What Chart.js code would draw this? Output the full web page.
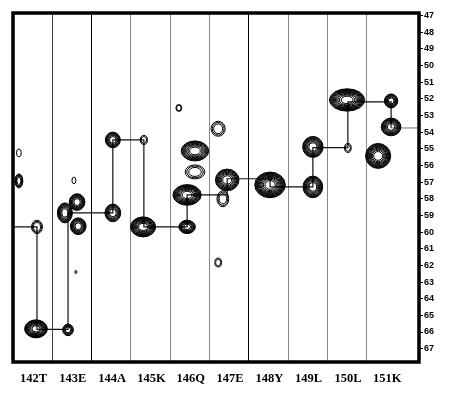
<!DOCTYPE html>
<html>
<head>
<meta charset="utf-8">
<script src="https://cdn.jsdelivr.net/npm/chart.js@4/dist/chart.umd.min.js"></script>
<style>
  body { margin: 0; background: #fff; }
  canvas { display: block; }
</style>
</head>
<body>
<canvas id="strips" width="449" height="393"></canvas>
<script>
// residue strips, left to right
const residues = ['142T', '143E', '144A', '145K', '146Q', '147E', '148Y', '149L', '150L', '151K'];
// 13C shift axis (ppm), drawn top to bottom
const ppmTicks = [47, 48, 49, 50, 51, 52, 53, 54, 55, 56, 57, 58, 59, 60, 61, 62, 63, 64, 65, 66, 67];

// cross peaks: position across the strips, 13C shift, half widths, number of contour levels
const peakX        = [0.585, 1.40, 0.61, 1.63, 1.32, 1.66, 1.55, 1.60, 0.15, 0.15, 2.54, 2.54, 3.33, 3.31, 4.43, 4.43, 4.63, 4.63, 4.22, 5.22, 5.45, 5.34, 5.22, 6.54, 7.63, 7.63, 8.52, 8.50, 9.62, 9.62, 9.29];
const peakPpm      = [65.81, 65.87, 59.69, 58.20, 58.85, 59.65, 56.90, 62.40, 55.25, 56.93, 58.85, 54.47, 54.47, 59.69, 59.69, 57.77, 56.39, 55.13, 52.55, 53.80, 56.87, 58.00, 61.83, 57.17, 57.29, 54.89, 54.95, 52.07, 52.13, 53.69, 55.43];
const peakWidthX   = [0.29, 0.135, 0.14, 0.20, 0.19, 0.20, 0.05, 0.025, 0.06, 0.10, 0.20, 0.19, 0.09, 0.32, 0.21, 0.36, 0.25, 0.35, 0.075, 0.18, 0.30, 0.15, 0.085, 0.39, 0.25, 0.26, 0.085, 0.45, 0.17, 0.25, 0.32];
const peakWidthPpm = [0.54, 0.35, 0.40, 0.50, 0.60, 0.50, 0.20, 0.10, 0.24, 0.42, 0.53, 0.47, 0.27, 0.60, 0.40, 0.62, 0.42, 0.60, 0.21, 0.45, 0.65, 0.48, 0.27, 0.77, 0.65, 0.63, 0.27, 0.67, 0.42, 0.53, 0.75];
const peakLevels   = [8, 4, 3, 6, 6, 6, 1, 1, 1, 4, 5, 5, 2, 8, 6, 8, 3, 7, 2, 3, 7, 3, 2, 9, 7, 7, 2, 9, 5, 7, 8];

// sequential walk connecting the i / i-1 peaks
const walkX   = [0, 0.61, 0.61, 1.40, 1.40, 2.54, 2.54, 3.33, 3.33, 4.43, 4.43, 5.45, 5.45, 6.54, 6.54, 7.63, 7.63, 8.52, 8.52, 9.62, 9.62, 10.33];
const walkPpm = [59.69, 59.69, 65.84, 65.84, 58.85, 58.85, 54.47, 54.47, 59.69, 59.69, 57.77, 57.77, 56.80, 56.80, 57.29, 57.29, 54.93, 54.93, 52.19, 52.19, 53.75, 53.75];

const walkData = walkX.map((x, i) => ({ x: x, y: walkPpm[i] }));
const peakData = peakX.map((x, i) => ({ x: x, y: peakPpm[i] }));

// nested ellipses for each peak, sized through the scales
const contourPlugin = {
    id: 'contours',
    afterDatasetsDraw(chart) {
        const { ctx, chartArea, scales } = chart;
        const meta = chart.getDatasetMeta(1);
        ctx.save();
        ctx.beginPath();
        ctx.rect(chartArea.left, chartArea.top, chartArea.width, chartArea.height);
        ctx.clip();
        ctx.strokeStyle = '#000';
        ctx.lineWidth = 1;
        meta.data.forEach((pt, i) => {
            const rx = Math.abs(scales.x.getPixelForValue(peakX[i] + peakWidthX[i]) - pt.x);
            const ry = Math.abs(scales.y.getPixelForValue(peakPpm[i] + peakWidthPpm[i]) - pt.y);
            const n = peakLevels[i] > 3 ? Math.round(peakLevels[i] * 1.35) : peakLevels[i];
            for (let k = 0; k < n; k++) {
                const f = Math.sqrt(1 - k / (n + 0.4));
                ctx.beginPath();
                ctx.ellipse(pt.x, pt.y, Math.max(rx * f, 0.8), Math.max(ry * f, 0.8), 0, 0, Math.PI * 2);
                ctx.stroke();
            }
        });
        ctx.restore();
    }
};

// heavy frame round the plot
const framePlugin = {
    id: 'frame',
    afterDraw(chart) {
        const { ctx, chartArea } = chart;
        ctx.save();
        ctx.strokeStyle = '#000';
        ctx.lineWidth = 3.5;
        ctx.strokeRect(chartArea.left, chartArea.top, chartArea.width, chartArea.height);
        ctx.restore();
    }
};

const darkLines = { 1: '#444', 2: '#000', 6: '#000' };

new Chart(document.getElementById('strips').getContext('2d'), {
    type: 'scatter',
    data: {
        datasets: [{
            data: walkData,
            showLine: true,
            pointRadius: 0,
            borderWidth: 1.2,
            borderColor: '#111',
            segment: {
                borderColor: c => c.p1DataIndex === walkData.length - 1 ? '#888' : '#111'
            }
        }, {
            data: peakData,
            pointRadius: 0,
            showLine: false
        }]
    },
    options: {
        responsive: false,
        animation: false,
        events: [],
        layout: { padding: { left: 13, top: 13, right: 0, bottom: 0 } },
        plugins: { legend: { display: false }, tooltip: { enabled: false } },
        scales: {
            x: {
                type: 'linear',
                min: 0,
                max: 10.33,
                afterBuildTicks: scale => { scale.ticks = residues.map((r, i) => ({ value: i })); },
                afterFit: scale => {
                    scale.height = 31;
                    scale.paddingLeft = 0;
                    scale.paddingRight = 0;
                },
                border: { display: false },
                grid: {
                    drawTicks: false,
                    lineWidth: 1,
                    color: c => darkLines[c.index] || '#888'
                },
                ticks: {
                    autoSkip: false,
                    maxRotation: 0,
                    labelOffset: 20.5,
                    padding: 9,
                    color: '#000',
                    font: { family: 'Liberation Serif', weight: 'bold', size: 12.5 },
                    callback: (v, i) => residues[i]
                }
            },
            y: {
                type: 'linear',
                position: 'right',
                reverse: true,
                min: 46.85,
                max: 67.8,
                afterBuildTicks: scale => { scale.ticks = ppmTicks.map(v => ({ value: v })); },
                afterFit: scale => {
                    scale.width = 30;
                    scale.paddingTop = 0;
                    scale.paddingBottom = 0;
                },
                border: { display: false },
                grid: {
                    drawOnChartArea: false,
                    drawTicks: true,
                    tickLength: 4,
                    color: '#000'
                },
                ticks: {
                    padding: 1,
                    color: '#000',
                    font: { family: 'Liberation Sans', weight: 'bold', size: 9 }
                }
            }
        }
    },
    plugins: [contourPlugin, framePlugin]
});
</script>
</body>
</html>
